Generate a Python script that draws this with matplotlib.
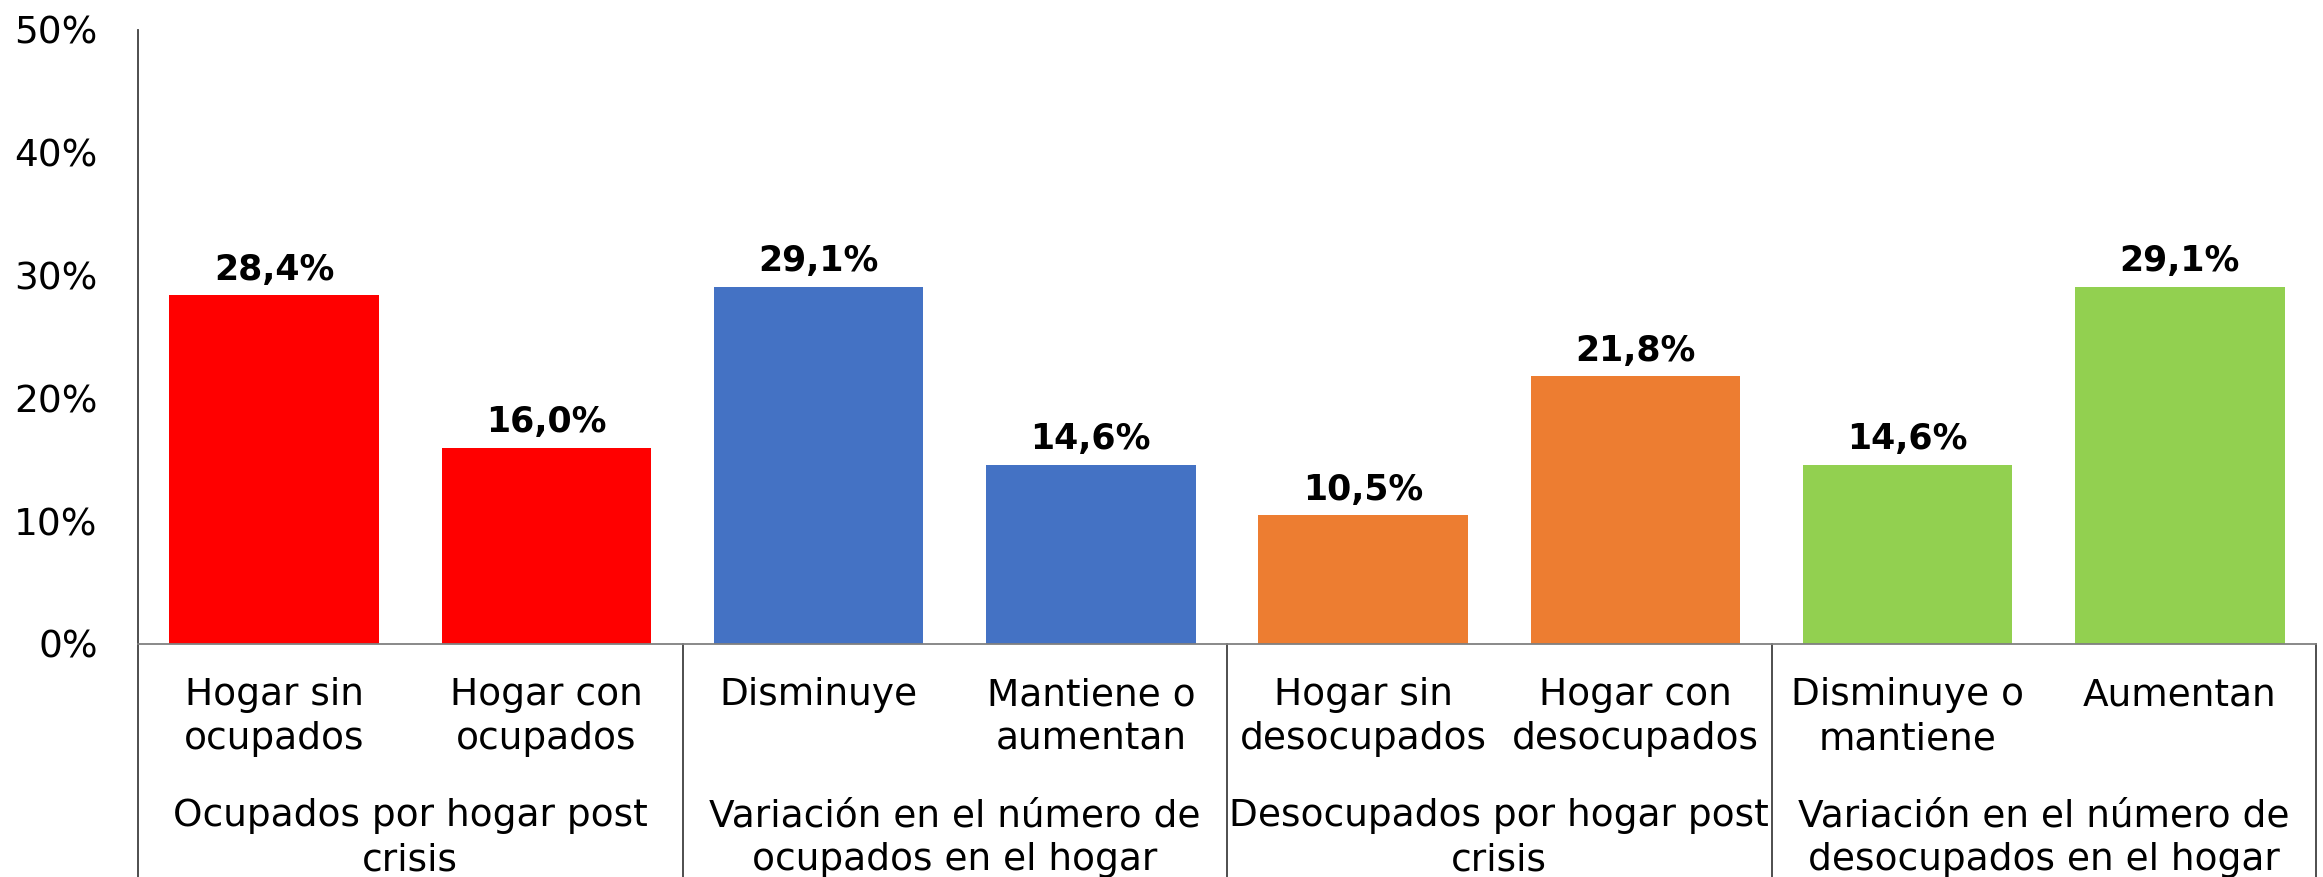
import matplotlib
matplotlib.use('Agg')
import matplotlib.pyplot as plt
import matplotlib.transforms as mtransforms

categorias = ['Hogar sin\nocupados', 'Hogar con\nocupados',
              'Disminuye', 'Mantiene o\naumentan',
              'Hogar sin\ndesocupados', 'Hogar con\ndesocupados',
              'Disminuye o\nmantiene', 'Aumentan']
valores = [28.4, 16.0, 29.1, 14.6, 10.5, 21.8, 14.6, 29.1]
grupos = ['Ocupados por hogar post\ncrisis',
          'Variación en el número de\nocupados en el hogar',
          'Desocupados por hogar post\ncrisis',
          'Variación en el número de\ndesocupados en el hogar']
colores = ['#FF0000', '#FF0000', '#4472C4', '#4472C4',
           '#ED7D31', '#ED7D31', '#92D050', '#92D050']
yticks = [0, 10, 20, 30, 40, 50]

plt.rcParams['font.family'] = ['DejaVu Sans']

fig = plt.figure(figsize=(23.23, 8.77), dpi=100)
ax = fig.add_axes([138 / 2323, 1 - 644 / 877, (2316 - 138) / 2323, (644 - 30) / 877])

x = list(range(len(valores)))
bars = ax.bar(x, valores, width=0.77, color=colores)
ax.bar_label(bars, labels=[f'{v:.1f}%'.replace('.', ',') for v in valores],
             padding=6, fontsize=25, fontweight='bold')

ax.set_xlim(-0.5, len(valores) - 0.5)
ax.set_ylim(0, 50)
ax.set_yticks(yticks)
ax.set_yticklabels([f'{t}%' for t in yticks], fontsize=27)
ax.tick_params(axis='y', length=0, pad=29)
ax.set_xticks([])

for s in ['top', 'right']:
    ax.spines[s].set_visible(False)
ax.spines['left'].set_color('#404040')
ax.spines['bottom'].set_color('#808080')
ax.spines['left'].set_linewidth(1.3)
ax.spines['bottom'].set_linewidth(1.3)

# etiquetas de categoria y de grupo debajo del eje
for i, c in enumerate(categorias):
    ax.annotate(c, xy=(i, 0), xytext=(0, -24), textcoords='offset points',
                ha='center', va='top', fontsize=27, linespacing=1.28,
                annotation_clip=False)

for g, nombre in enumerate(grupos):
    ax.annotate(nombre, xy=(2 * g + 0.5, 0), xytext=(0, -111), textcoords='offset points',
                ha='center', va='top', fontsize=27, linespacing=1.28,
                annotation_clip=False)

# lineas separadoras de grupos
trans = mtransforms.blended_transform_factory(ax.transData, ax.transAxes)
fondo = -(877 - 644) / (644 - 30)
for b in [-0.5, 1.5, 3.5, 5.5, 7.5]:
    ax.plot([b, b], [0, fondo], transform=trans, color='#404040', lw=1.3, clip_on=False)

fig.savefig('out.png', dpi=100)
